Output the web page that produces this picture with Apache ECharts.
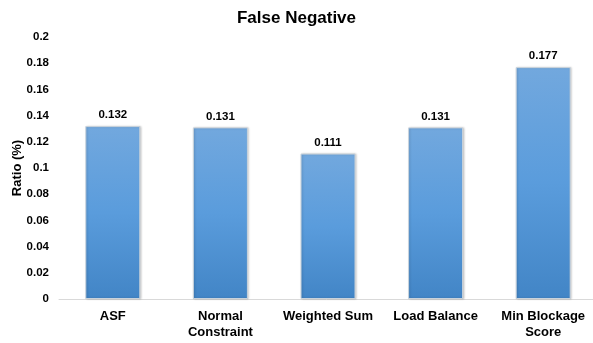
<!DOCTYPE html>
<html>
<head>
<meta charset="utf-8">
<script src="https://cdn.jsdelivr.net/npm/echarts@6/dist/echarts.min.js"></script>
<style>
  html, body { margin: 0; padding: 0; background: #fff; }
  #chart { width: 593px; height: 343px; }
</style>
</head>
<body>
<div id="chart"></div>
<script>
// Methods compared on the x axis
const categories = ['ASF', 'Normal\nConstraint', 'Weighted Sum', 'Load Balance', 'Min Blockage\nScore'];
// False negative ratio per method
const values = [0.132, 0.131, 0.111, 0.131, 0.177];
// Y-axis range
const yMin = 0, yMax = 0.2, yStep = 0.02;

const FONT = '"Liberation Sans", Arial, sans-serif';
const chart = echarts.init(document.getElementById('chart'), null, { renderer: 'canvas' });

chart.setOption({
  animation: false,
  backgroundColor: '#ffffff',
  title: {
    text: 'False Negative',
    left: 'center',
    top: 5,
    textStyle: { fontFamily: FONT, fontSize: 17, fontWeight: 'bold', color: '#000' }
  },
  grid: { left: 59, top: 37, width: 538, bottom: 44, containLabel: false, outerBoundsMode: 'none' },
  xAxis: {
    type: 'category',
    data: categories,
    axisLine: { lineStyle: { color: '#d9d9d9', width: 1 } },
    axisTick: { show: false },
    axisLabel: {
      interval: 0,
      margin: 9,
      fontFamily: FONT, fontSize: 13, fontWeight: 'bold', color: '#000',
      lineHeight: 16
    }
  },
  yAxis: {
    type: 'value',
    min: yMin, max: yMax, interval: yStep,
    name: 'Ratio (%)',
    nameLocation: 'middle',
    nameRotate: 90,
    nameGap: 35,
    nameMoveOverlap: false,
    nameTextStyle: { fontFamily: FONT, fontSize: 13, fontWeight: 'bold', color: '#000' },
    axisLine: { show: false },
    axisTick: { show: false },
    splitLine: { show: false },
    axisLabel: {
      margin: 10,
      fontFamily: FONT, fontSize: 11.5, fontWeight: 'bold', color: '#000',
      formatter: v => String(parseFloat(v.toFixed(3)))
    }
  },
  series: [{
    type: 'bar',
    data: values,
    barWidth: 55,
    itemStyle: {
      color: new echarts.graphic.LinearGradient(0, 0, 0, 1, [
        { offset: 0, color: '#72a8de' },
        { offset: 0.5, color: '#5a9cdc' },
        { offset: 1, color: '#4285c6' }
      ]),
      borderColor: '#c9d3dc',
      borderWidth: 1,
      shadowColor: 'rgba(0,0,0,0.18)',
      shadowBlur: 2,
      shadowOffsetX: 1,
      shadowOffsetY: 0
    },
    label: {
      show: true,
      position: 'top',
      distance: 5,
      fontFamily: FONT, fontSize: 11.5, fontWeight: 'bold', color: '#000',
      formatter: p => p.value.toFixed(3)
    }
  }]
});
</script>
</body>
</html>
